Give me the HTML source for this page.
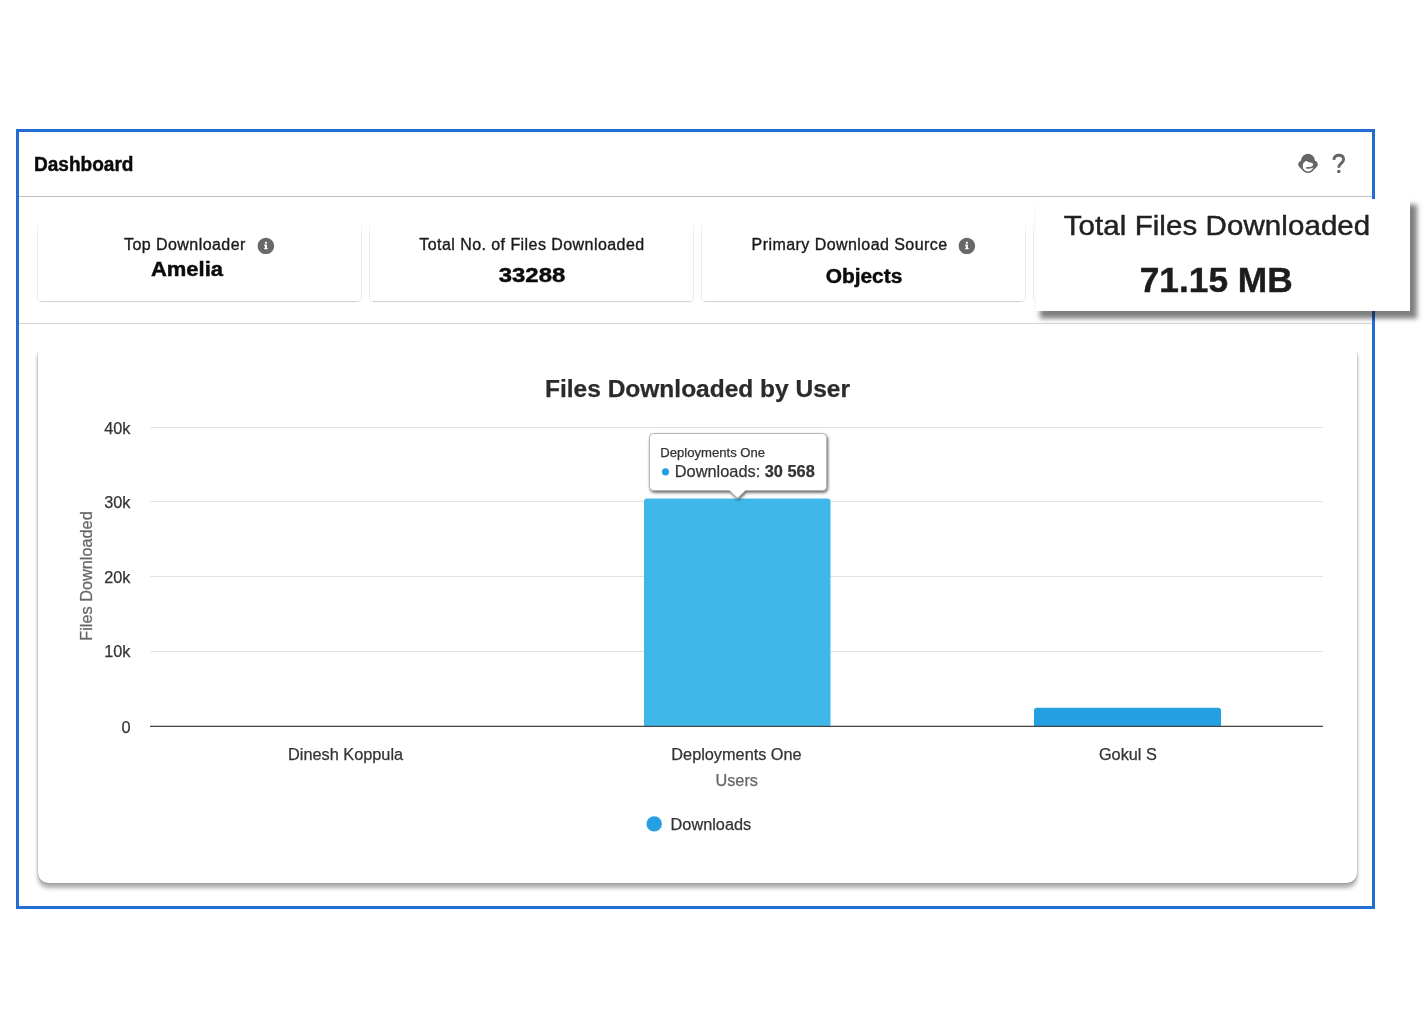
<!DOCTYPE html>
<html>
<head>
<meta charset="utf-8">
<title>Dashboard</title>
<style>
  html, body { margin: 0; padding: 0; background: #ffffff; }
  body { width: 1428px; height: 1012px; position: relative; overflow: hidden;
         font-family: "Liberation Sans", sans-serif; color: #111; }
  .abs { position: absolute; }
  .lbl { -webkit-text-stroke: 0.35px currentColor; }
  .val, #title, .pl2 { -webkit-text-stroke: 0.45px currentColor; }
  svg text { stroke-width: 0.25px; }
  /* outer blue frame */
  #frame { left: 16px; top: 129px; width: 1353px; height: 774px; border: 3px solid #236dd2; background: #fff; }
  #title { left: 34.3px; top: 153.2px; font-size: 19.6px; font-weight: bold; line-height: 22px; color: #0b0b0b; white-space: nowrap; transform: scaleX(0.972); transform-origin: 0 50%; }
  .hline { left: 19px; width: 1353px; height: 1px; background: #c9ccd3; }
  /* stat cards */
  .card { top: 221px; height: 80.5px; width: 325.1px; box-sizing: border-box; background: #fff;
          border: 1px solid #ebebeb; border-bottom-color: #e1e1e1; border-top: 0; border-radius: 0 0 4px 4px;
          -webkit-mask-image: linear-gradient(to bottom, rgba(0,0,0,0) 1px, #000 12px);
          mask-image: linear-gradient(to bottom, rgba(0,0,0,0) 1px, #000 12px); }
  .cardsh { top: 301.3px; height: 1.6px; width: 317px; background: linear-gradient(to bottom, rgba(0,0,0,0.07), rgba(0,0,0,0)); }
  .lbl { font-size: 16px; line-height: 18px; letter-spacing: 0.44px; color: #1a1a1a; white-space: nowrap; }
  .val { font-size: 20px; line-height: 24px; font-weight: bold; color: #0b0b0b; white-space: nowrap; }
  .val span { display: inline-block; transform-origin: 50% 50%; }
  /* popout */
  #pop { left: 1036px; top: 199px; width: 373.6px; height: 111.6px; background: #fff;
         box-shadow: 5.5px 6.2px 5px 1.5px rgba(0,0,0,0.5); }
  .pl1 { left: 1216.6px; top: 209.8px; transform: translateX(-50%) scaleX(1.072); font-size: 27.5px; line-height: 32px; letter-spacing: 0.08px; color: #222; white-space: nowrap; -webkit-text-stroke: 0.45px #222 !important; }
  .pl2 { left: 1216.25px; top: 258.5px; transform: translateX(-50%); font-size: 35.3px; line-height: 42px; font-weight: bold; color: #1c1c1c; white-space: nowrap; }
  /* chart card */
  #chartclip { left: 22px; top: 352px; width: 1348px; height: 550px; overflow: hidden; }
  #chart { left: 16px; top: -7px; width: 1319px; height: 538px; background: #fff; border-radius: 10px;
           box-shadow: 0 0 1.5px rgba(0,0,0,0.45), 0 4.5px 4.5px rgba(0,0,0,0.32); }
  svg text { font-family: "Liberation Sans", sans-serif; }
</style>
</head>
<body>
<div id="root" style="position:absolute;left:0;top:0;width:1428px;height:1012px;will-change:transform">
<div id="frame" class="abs"></div>
<div id="title" class="abs">Dashboard</div>
<div class="abs hline" style="top:196px;background:#bfbfc4"></div>
<div class="abs hline" style="top:323px;background:#d5d5d6"></div>

<div class="abs card" style="left:36.7px"></div>
<div class="abs cardsh" style="left:40.7px"></div>
<div class="abs card" style="left:368.8px"></div>
<div class="abs cardsh" style="left:372.8px"></div>
<div class="abs card" style="left:700.9px"></div>
<div class="abs cardsh" style="left:704.9px"></div>
<div class="abs card" style="left:1033.0px"></div>
<div class="abs cardsh" style="left:1037.0px"></div>

<div class="abs lbl" style="left:124px;top:235.7px">Top Downloader</div>
<div class="abs val" style="left:187.4px;top:257px"><span style="transform:translateX(-50%) scaleX(1.10)">Amelia</span></div>
<div class="abs lbl" style="left:419.3px;top:235.7px">Total No. of Files Downloaded</div>
<div class="abs val" style="left:531.7px;top:263px;font-size:21px"><span style="transform:translateX(-50%) scaleX(1.14)">33288</span></div>
<div class="abs lbl" style="left:751.6px;top:235.7px">Primary Download Source</div>
<div class="abs val" style="left:864px;top:263.5px"><span style="transform:translateX(-50%) scaleX(1.044)">Objects</span></div>

<svg class="abs" style="left:257.1px;top:236.7px" width="17.8" height="17.8" viewBox="0 0 52 52"><path fill="#696969" d="M26 2C12.7 2 2 12.7 2 26s10.7 24 24 24 24-10.7 24-24S39.3 2 26 2zm0 12.1c1.7 0 3 1.3 3 3s-1.3 3-3 3-3-1.3-3-3 1.3-3 3-3zm5 21c0 .5-.4.9-1 .9h-8c-.5 0-1-.3-1-.9v-2c0-.5.4-1.1 1-1.1.5 0 1-.3 1-.9v-4c0-.5-.4-1.1-1-1.1-.5 0-1-.3-1-.9v-2c0-.5.4-1.1 1-1.1h6c.5 0 1 .5 1 1.1v8c0 .5.4.9 1 .9.5 0 1 .5 1 1.1v2z"/></svg>
<svg class="abs" style="left:958.1px;top:236.7px" width="17.8" height="17.8" viewBox="0 0 52 52"><path fill="#696969" d="M26 2C12.7 2 2 12.7 2 26s10.7 24 24 24 24-10.7 24-24S39.3 2 26 2zm0 12.1c1.7 0 3 1.3 3 3s-1.3 3-3 3-3-1.3-3-3 1.3-3 3-3zm5 21c0 .5-.4.9-1 .9h-8c-.5 0-1-.3-1-.9v-2c0-.5.4-1.1 1-1.1.5 0 1-.3 1-.9v-4c0-.5-.4-1.1-1-1.1-.5 0-1-.3-1-.9v-2c0-.5.4-1.1 1-1.1h6c.5 0 1 .5 1 1.1v8c0 .5.4.9 1 .9.5 0 1 .5 1 1.1v2z"/></svg>

<div id="pop" class="abs"></div>
<div class="abs pl1">Total Files Downloaded</div>
<div class="abs pl2">71.15 MB</div>

<div id="chartclip" class="abs"><div id="chart" class="abs"></div></div>
<svg class="abs" style="left:0;top:0" width="1428" height="1012" viewBox="0 0 1428 1012">
  <!-- header icons -->
  <g id="hdr-icons">
    <!-- headset / support icon -->
    <path fill="#666666" d="M1300.9 162.6 C1300.6 157.3 1303.8 153.8 1308 153.8 C1312.2 153.8 1315.4 157.3 1315.1 162.6 C1312.4 163.6 1308.6 162.6 1305.6 160.2 C1304.4 161.6 1302.6 162.5 1300.9 162.6 Z"/>
    <circle cx="1308" cy="166" r="6.2" fill="none" stroke="#666666" stroke-width="1.5"/>
    <path fill="#666666" d="M1302.2 160.2 Q1298.2 161.3 1298.2 164.4 Q1298.2 166.6 1302.8 170 Z"/>
    <path fill="#666666" d="M1313.8 160.2 Q1317.8 161.3 1317.8 164.4 Q1317.8 166.6 1313.2 170 Z"/>
    <path fill="none" stroke="#666666" stroke-width="1.7" stroke-linecap="round" d="M1314.6 164.6 C1313.2 167.2 1310 168.2 1306.9 167.9"/>
    <!-- question mark -->
    <path fill="none" stroke="#666666" stroke-width="2.9" stroke-linecap="butt" d="M1333.8 159.9 C1334.2 156.8 1336.3 155.3 1338.9 155.3 C1341.8 155.3 1343.6 157.1 1343.6 159.6 C1343.6 162 1341.9 162.9 1340.6 163.9 C1339.3 164.9 1338.8 165.8 1338.8 167.7"/>
    <rect x="1337.2" y="169.9" width="3.2" height="3.1" rx="0.8" fill="#666666"/>
  </g>
  <!-- grid lines -->
  <g stroke="#e2e2e2" stroke-width="1" shape-rendering="crispEdges">
    <line x1="150" x2="1323" y1="427.5" y2="427.5"/>
    <line x1="150" x2="1323" y1="501.5" y2="501.5"/>
    <line x1="150" x2="1323" y1="576.5" y2="576.5"/>
    <line x1="150" x2="1323" y1="651.5" y2="651.5"/>
  </g>
  <!-- title -->
  <text x="697.5" y="397" text-anchor="middle" font-size="24.5" font-weight="bold" fill="#2b2b2b" stroke="#2b2b2b">Files Downloaded by User</text>
  <!-- y labels -->
  <g font-size="16.3" fill="#333333" text-anchor="end" stroke="#333333">
    <text x="130.5" y="433.5">40k</text>
    <text x="130.5" y="507.8">30k</text>
    <text x="130.5" y="582.5">20k</text>
    <text x="130.5" y="657.2">10k</text>
    <text x="130.5" y="732.5">0</text>
  </g>
  <text transform="translate(92,576) rotate(-90)" text-anchor="middle" font-size="16.3" fill="#666666" stroke="#666666">Files Downloaded</text>
  <!-- bars -->
  <path d="M644 726 V501.5 a3 3 0 0 1 3 -3 H827.5 a3 3 0 0 1 3 3 V726 Z" fill="#40b7e9"/>
  <path d="M1034 726 V710.7 a3 3 0 0 1 3 -3 H1218 a3 3 0 0 1 3 3 V726 Z" fill="#249fe2"/>
  <!-- axis line -->
  <line x1="150" x2="1323" y1="726.3" y2="726.3" stroke="#444444" stroke-width="1.25"/>
  <!-- x labels -->
  <g font-size="16.3" fill="#333333" text-anchor="middle" stroke="#333333">
    <text x="345.6" y="760">Dinesh Koppula</text>
    <text x="736.5" y="760">Deployments One</text>
    <text x="1127.9" y="760">Gokul S</text>
  </g>
  <text x="736.7" y="785.6" text-anchor="middle" font-size="16.3" fill="#666666" stroke="#666666">Users</text>
  <!-- legend -->
  <circle cx="654.2" cy="823.9" r="7.7" fill="#249fe2"/>
  <text x="670.6" y="830.2" font-size="16.3" fill="#333333" stroke="#333333">Downloads</text>
  <!-- tooltip -->
  <g filter="url(#ttshadow)">
    <path d="M653.5 433.5 H822.5 a4 4 0 0 1 4 4 V486.5 a4 4 0 0 1 -4 4 H745.5 L737.5 498 L729.5 490.5 H653.5 a4 4 0 0 1 -4 -4 V437.5 a4 4 0 0 1 4 -4 Z" fill="#ffffff" stroke="#b2b4b7" stroke-width="1"/>
  </g>
  <text x="660.3" y="457.1" font-size="13.1" fill="#333333" stroke="#333333">Deployments One</text>
  <circle cx="665.5" cy="471.8" r="3.6" fill="#249fe2"/>
  <text x="674.8" y="476.8" font-size="16.35" fill="#333333" stroke="#333333">Downloads: <tspan font-weight="bold">30 568</tspan></text>
  <defs>
    <filter id="ttshadow" x="-10%" y="-20%" width="120%" height="150%">
      <feDropShadow dx="1" dy="1.7" stdDeviation="1.4" flood-color="#000" flood-opacity="0.62"/>
    </filter>
  </defs>
</svg>
</div>
</body>
</html>
